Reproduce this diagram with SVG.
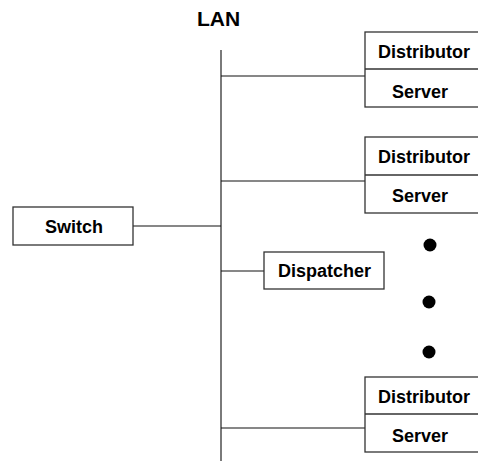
<svg xmlns="http://www.w3.org/2000/svg" width="478" height="461" viewBox="0 0 478 461">
<style>
.box{fill:#fff;stroke:#333;stroke-width:1.3}
.t{font-family:"Liberation Sans",Arial,sans-serif;font-weight:bold;font-size:18px;fill:#000}
.c{stroke:#111;stroke-width:1.2;fill:none}
.lan{stroke:#7a7a7a;stroke-width:2;fill:none}
</style>
<rect width="478" height="461" fill="#fff"/>
<g id="connectors">
<line class="lan" x1="221" y1="50" x2="221" y2="461"/>
<line class="c" x1="221" y1="76" x2="365" y2="76"/>
<line class="c" x1="221" y1="181" x2="365" y2="181"/>
<line class="c" x1="133" y1="226" x2="221" y2="226"/>
<line class="c" x1="221" y1="271" x2="264" y2="271"/>
<line class="c" x1="221" y1="428" x2="365" y2="428"/>
</g>
<g id="lan-label"><text class="t" x="197" y="26" style="font-size:21px">LAN</text></g>
<g id="switch">
<rect class="box" x="13" y="207" width="120" height="38"/>
<text class="t" x="45" y="233">Switch</text>
</g>
<g id="dispatcher">
<rect class="box" x="264" y="252" width="120" height="37"/>
<text class="t" x="278" y="277">Dispatcher</text>
</g>
<g id="node1">
<rect class="box" x="365" y="32" width="120" height="75"/>
<line class="box" x1="365" y1="69" x2="485" y2="69"/>
<text class="t" x="378" y="58">Distributor</text>
<text class="t" x="392" y="98">Server</text>
</g>
<g id="node2">
<rect class="box" x="365" y="137" width="120" height="76"/>
<line class="box" x1="365" y1="175" x2="485" y2="175"/>
<text class="t" x="378" y="163">Distributor</text>
<text class="t" x="392" y="202">Server</text>
</g>
<g id="node3">
<rect class="box" x="365" y="377" width="120" height="75"/>
<line class="box" x1="365" y1="414" x2="485" y2="414"/>
<text class="t" x="378" y="403">Distributor</text>
<text class="t" x="392" y="442">Server</text>
</g>
<g id="dots">
<circle cx="430" cy="245" r="6.5" fill="#000"/>
<circle cx="429" cy="302" r="6.5" fill="#000"/>
<circle cx="429" cy="352" r="6.5" fill="#000"/>
</g>
</svg>
